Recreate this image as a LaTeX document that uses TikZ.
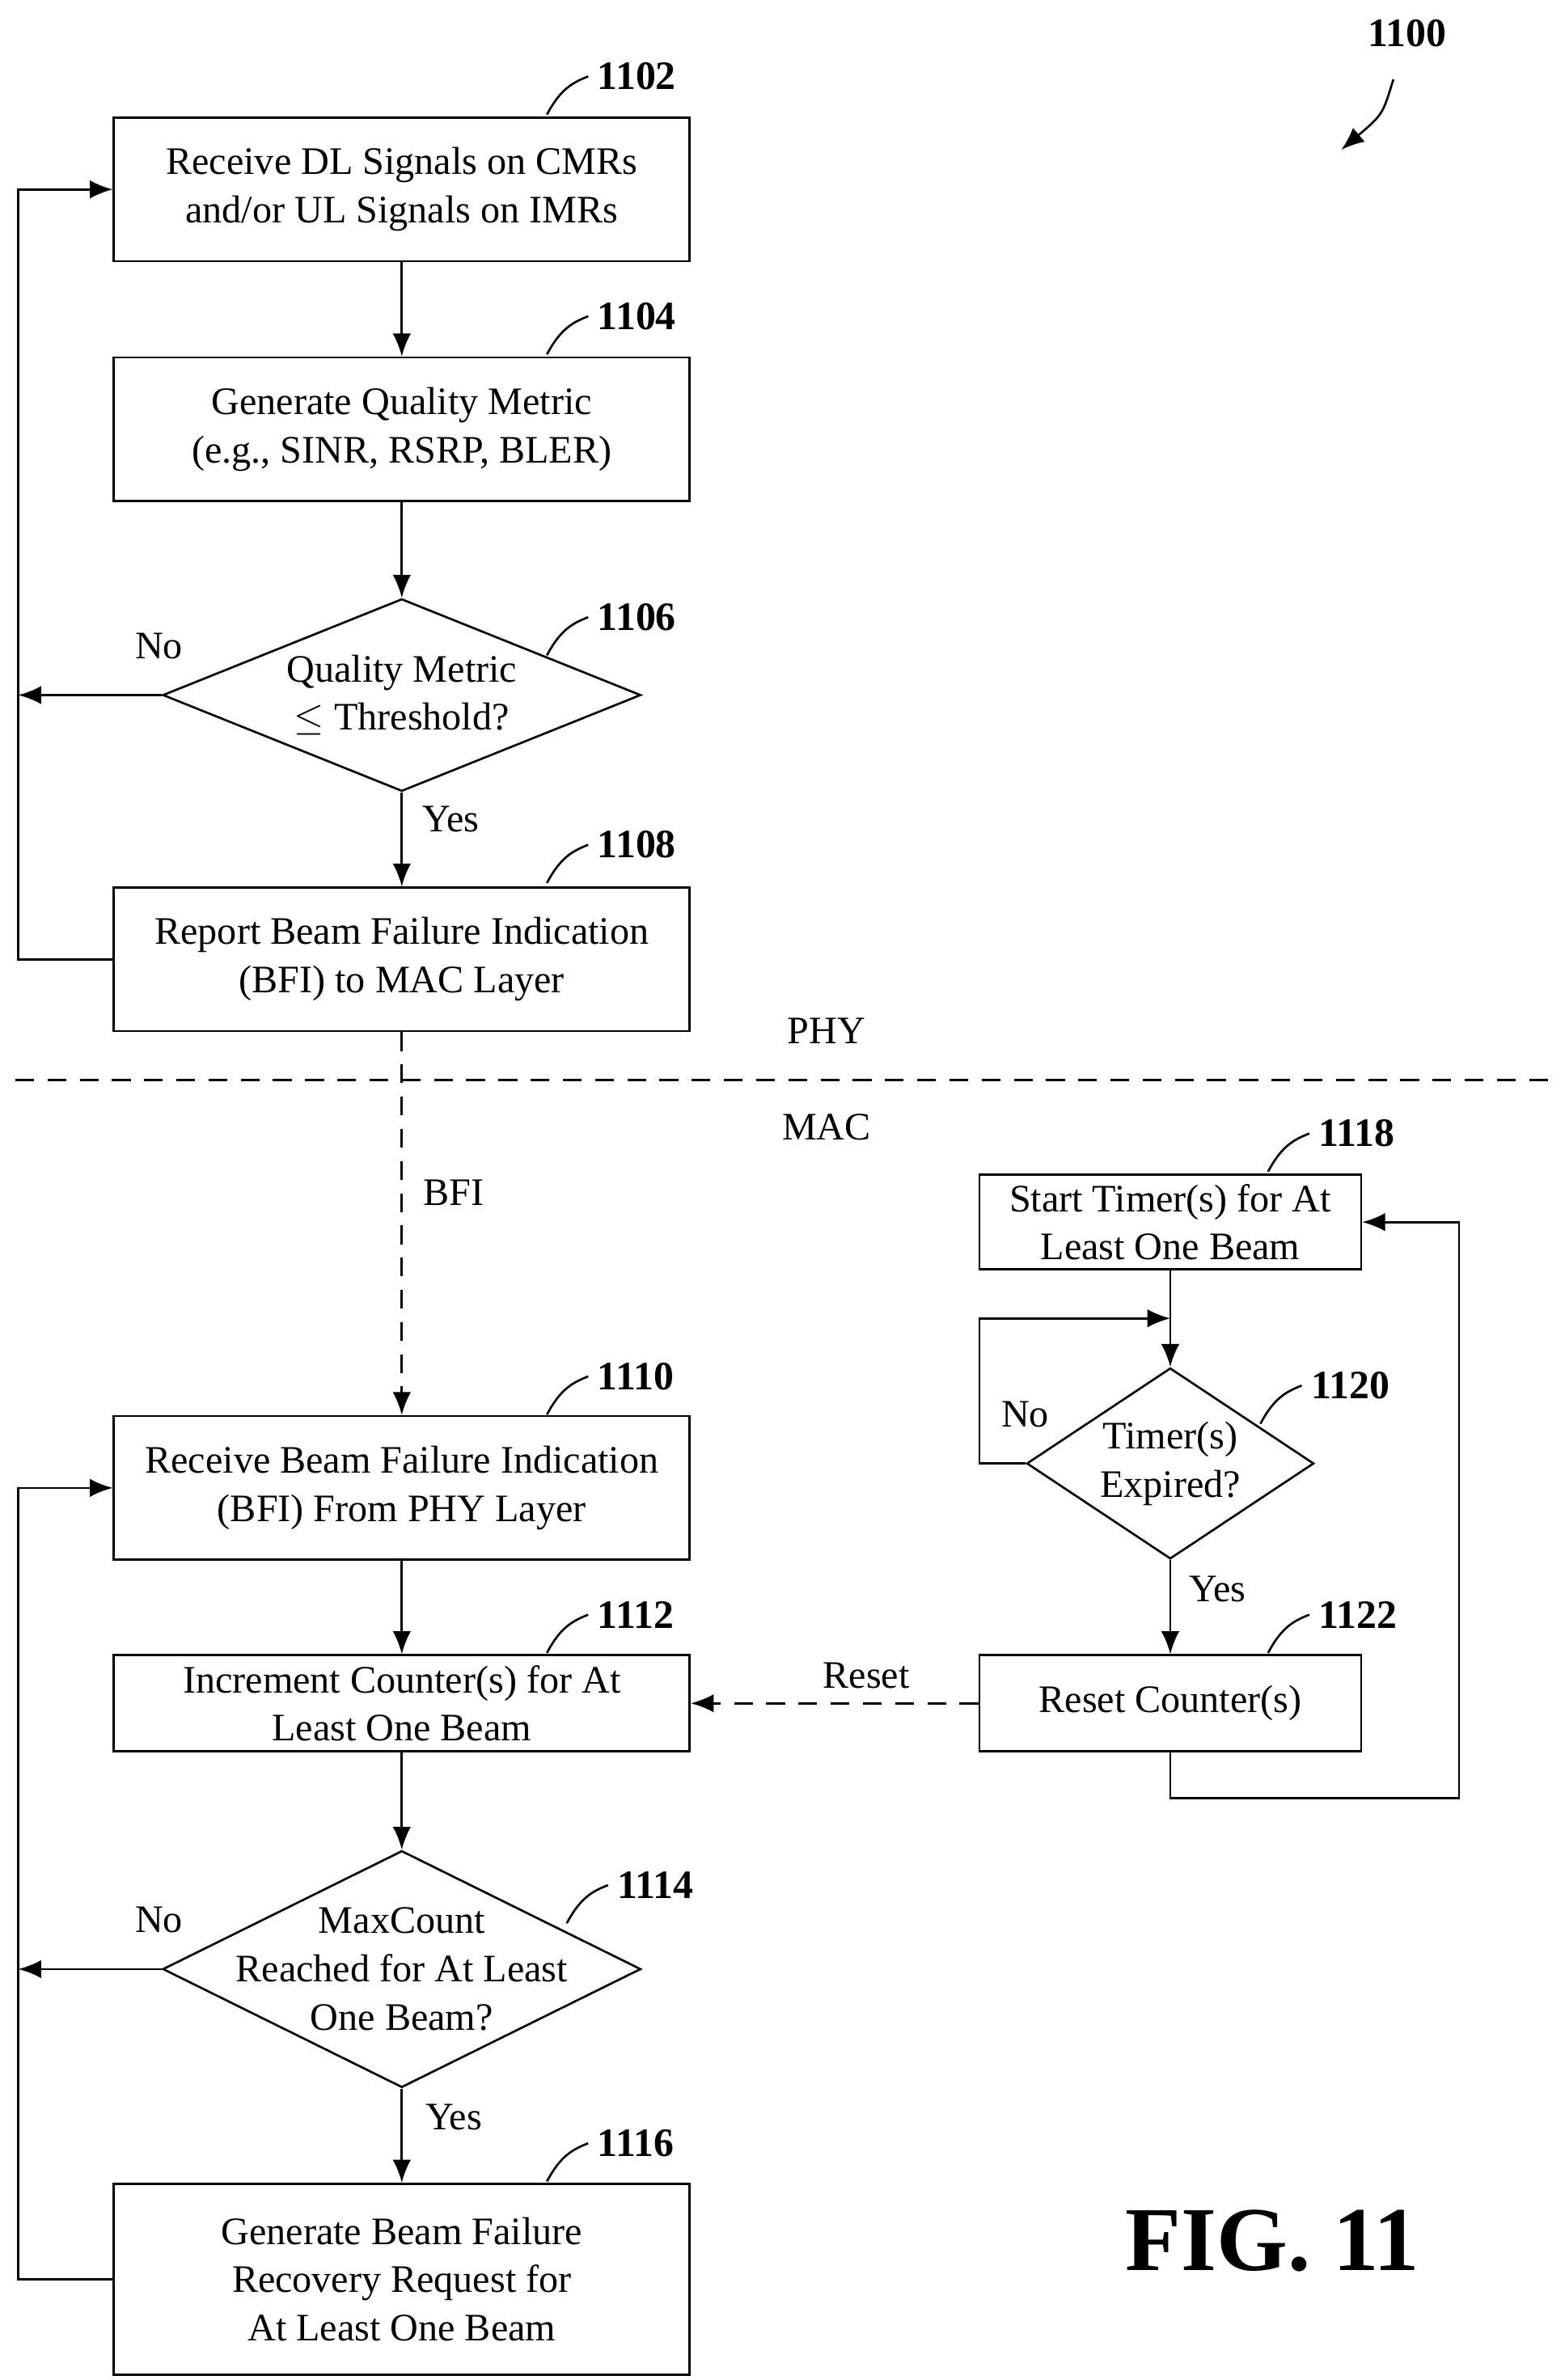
\documentclass[tikz,border=0pt]{standalone}
\usepackage{fontspec}
\setmainfont{Liberation Serif}
\usetikzlibrary{shapes.geometric,arrows.meta}
\tikzset{
 box/.style={draw,thick,minimum width=7.54cm,align=center,font=\fontsize{14.5}{18}\selectfont},
 sbox/.style={draw,thick,minimum width=5cm,align=center,font=\fontsize{14.5}{18}\selectfont},
 dec/.style={draw,thick,diamond,inner sep=0pt},
 lbl/.style={font=\fontsize{14.5}{18}\selectfont},
 dtext/.style={align=center,font=\fontsize{14.5}{18}\selectfont},
 num/.style={font=\fontsize{15}{18}\selectfont\bfseries},
 flow/.style={thick,-{Latex[length=3mm,width=2.4mm]}}
}
\newcommand{\refnum}[3]{%
 \draw[thick] (#1-27,#2+25) .. controls (#1-18,#2+8) and (#1-10,#2+4) .. (#1,#2);
 \node[num,anchor=west] at (#1,#2) {#3};}
\begin{document}
\begin{tikzpicture}[x={(0.02cm,0)},y={(0,-0.02cm)}]
\useasboundingbox (0,0) rectangle (1024,1558);
% PHY part
\node[box,minimum height=1.88cm] (b1102) at (263,124) {Receive DL Signals on CMRs\\and/or UL Signals on IMRs};
\node[box,minimum height=1.88cm] (b1104) at (263,281) {Generate Quality Metric\\(e.g., SINR, RSRP, BLER)};
\node[dec,minimum width=6.26cm,minimum height=2.52cm] (d1106) at (263,455) {};
\node[dtext] at (d1106) {Quality Metric\\$\leq$ Threshold?};
\node[box,minimum height=1.88cm] (b1108) at (263,628) {Report Beam Failure Indication\\(BFI) to MAC Layer};
% MAC part
\node[box,minimum height=1.88cm] (b1110) at (263,974) {Receive Beam Failure Indication\\(BFI) From PHY Layer};
\node[box,minimum height=1.26cm] (b1112) at (263,1115) {Increment Counter(s) for At\\Least One Beam};
\node[dec,minimum width=6.26cm,minimum height=3.1cm] (d1114) at (263,1289) {};
\node[dtext] at (d1114) {MaxCount\\Reached for At Least\\One Beam?};
\node[box,minimum height=2.5cm] (b1116) at (263,1492) {Generate Beam Failure\\Recovery Request for\\At Least One Beam};
\node[sbox,minimum height=1.24cm] (b1118) at (766,800) {Start Timer(s) for At\\Least One Beam};
\node[dec,minimum width=3.76cm,minimum height=2.5cm] (d1120) at (766,958) {};
\node[dtext] at (d1120) {Timer(s)\\Expired?};
\node[sbox,minimum height=1.26cm] (b1122) at (766,1115) {Reset Counter(s)};
% connectors
\draw[flow] (b1102) -- (b1104);
\draw[flow] (b1104) -- (d1106);
\draw[flow] (d1106) -- (b1108);
\node[lbl] at (295,536) {Yes};
\draw[flow] (d1106.west) -- (12,455);
\node[lbl] at (104,423) {No};
\draw[flow] (b1108.west) -| (12,124) -- (b1102.west);
\draw[thick,dashed,dash pattern=on 7pt off 5pt] (10,707) -- (1020,707);
\node[lbl] at (541,675) {PHY};
\node[lbl] at (541,738) {MAC};
\draw[flow,dashed,dash pattern=on 7pt off 5pt] (b1108) -- (b1110);
\node[lbl] at (297,781) {BFI};
\draw[flow] (b1110) -- (b1112);
\draw[flow] (b1112) -- (d1114);
\draw[flow] (d1114) -- (b1116);
\node[lbl] at (297,1386) {Yes};
\draw[flow] (d1114.west) -- (12,1289);
\node[lbl] at (104,1257) {No};
\draw[flow] (b1116.west) -| (12,974) -- (b1110.west);
\draw[flow] (b1118) -- (d1120);
\draw[flow] (d1120.west) -- (641,958) |- (766,863);
\node[lbl] at (671,926) {No};
\draw[flow] (d1120) -- (b1122);
\node[lbl] at (797,1040) {Yes};
\draw[flow,dashed,dash pattern=on 7pt off 5pt] (b1122) -- (b1112);
\node[lbl] at (567,1097) {Reset};
\draw[flow] (b1122.south) -- (766,1177) -| (955,800) -- (b1118.east);
% reference numerals
\refnum{385}{50}{1102}
\refnum{385}{207}{1104}
\refnum{385}{404}{1106}
\refnum{385}{553}{1108}
\refnum{385}{901}{1110}
\refnum{385}{1057}{1112}
\refnum{398}{1234}{1114}
\refnum{385}{1403}{1116}
\refnum{857}{742}{1118}
\refnum{852}{907}{1120}
\refnum{857}{1057}{1122}
\node[num] at (921,22) {1100};
\draw[thick,-{Latex[length=3mm,width=2.4mm]}] (912,52) .. controls (905,75) .. (878,98);
\node[font=\fontsize{34}{40}\selectfont\bfseries] at (833,1467) {FIG. 11};
\end{tikzpicture}
\end{document}
